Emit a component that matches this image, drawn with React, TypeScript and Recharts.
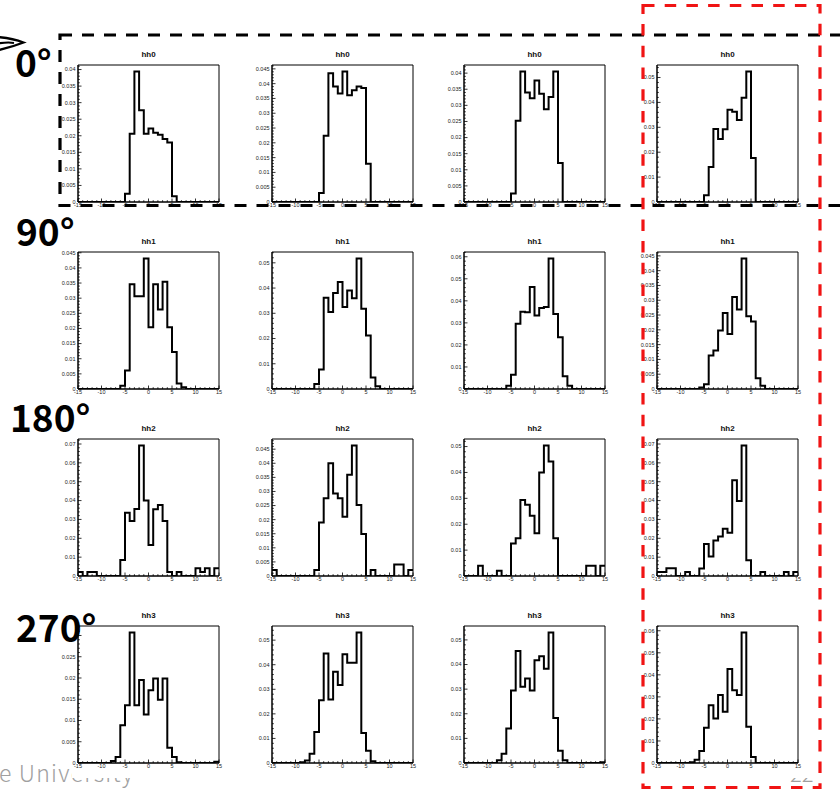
import React from 'react';
import { LineChart, Line, XAxis, YAxis, ReferenceArea } from 'recharts';

// ---------- categories / ticks ----------
const BIN_EDGES = [-15, -14, -13, -12, -11, -10, -9, -8, -7, -6, -5, -4, -3, -2, -1, 0, 1, 2, 3, 4, 5, 6, 7, 8, 9, 10, 11, 12, 13, 14, 15];
const X_TICKS = BIN_EDGES;
const X_LABELS = [-15, -10, -5, 0, 5, 10, 15];
const ROW_TITLES = ['hh0', 'hh1', 'hh2', 'hh3'];
const ANGLE_LABELS = ['0°', '90°', '180°', '270°'];

// ---------- series values (one value per bin, bins -15..14) ----------
const hh0_c1 = [0, 0, 0, 0, 0, 0, 0, 0, 0, 0, 0.0025, 0.0206, 0.0394, 0.0277, 0.0206, 0.0222, 0.0209, 0.0203, 0.019, 0.018, 0.0017, 0, 0, 0, 0, 0, 0, 0, 0, 0];
const hh0_c2 = [0, 0, 0, 0, 0, 0, 0, 0, 0, 0, 0.003, 0.0224, 0.0435, 0.039, 0.0367, 0.0441, 0.0361, 0.0378, 0.039, 0.0385, 0.0129, 0, 0, 0, 0, 0, 0, 0, 0, 0];
const hh0_c3 = [0, 0, 0, 0, 0, 0, 0, 0, 0, 0, 0.0026, 0.0252, 0.0405, 0.034, 0.0322, 0.0377, 0.0336, 0.0288, 0.0326, 0.0405, 0.0121, 0, 0, 0, 0, 0, 0, 0, 0, 0];
const hh0_c4 = [0, 0, 0, 0, 0, 0, 0, 0, 0, 0, 0.0027, 0.0141, 0.0293, 0.0253, 0.0292, 0.037, 0.0362, 0.0329, 0.0419, 0.0524, 0.0177, 0, 0, 0, 0, 0, 0, 0, 0, 0];

const hh1_c1 = [0, 0, 0, 0, 0, 0, 0, 0, 0, 0.0011, 0.0061, 0.0346, 0.0306, 0.0306, 0.0431, 0.0204, 0.0346, 0.0263, 0.0354, 0.0204, 0.0122, 0.0018, 0.0006, 0, 0, 0, 0, 0, 0, 0];
const hh1_c2 = [0, 0, 0, 0, 0, 0, 0, 0, 0, 0.002, 0.0077, 0.0362, 0.0305, 0.038, 0.0424, 0.0325, 0.039, 0.036, 0.0517, 0.0318, 0.0212, 0.0046, 0.0011, 0, 0, 0, 0, 0, 0, 0];
const hh1_c3 = [0, 0, 0, 0, 0, 0, 0, 0, 0, 0.0015, 0.0065, 0.0296, 0.035, 0.0348, 0.0463, 0.0334, 0.0367, 0.0372, 0.0592, 0.034, 0.0235, 0.0058, 0.0015, 0, 0, 0, 0, 0, 0, 0];
const hh1_c4 = [0, 0, 0, 0, 0, 0, 0, 0, 0, 0.0005, 0.0016, 0.0113, 0.013, 0.0198, 0.0257, 0.0186, 0.0311, 0.0269, 0.0441, 0.0246, 0.0228, 0.0036, 0.0011, 0, 0, 0, 0, 0, 0, 0];

const hh2_c1 = [0.0021, 0, 0.0021, 0.0021, 0, 0, 0, 0, 0, 0.0085, 0.0336, 0.0292, 0.0356, 0.0692, 0.04, 0.0165, 0.0354, 0.0377, 0.0292, 0.0021, 0, 0.0021, 0, 0, 0, 0.0041, 0.0021, 0.0041, 0, 0.0041];
const hh2_c2 = [0.0021, 0, 0, 0, 0, 0, 0, 0, 0, 0.0021, 0.019, 0.0276, 0.04, 0.0293, 0.0276, 0.021, 0.0359, 0.0463, 0.0252, 0.0149, 0, 0.0021, 0, 0, 0, 0, 0.0041, 0.0041, 0, 0.0021];
const hh2_c3 = [0, 0, 0, 0.004, 0, 0, 0, 0.002, 0, 0, 0.0126, 0.0146, 0.0294, 0.0275, 0.0233, 0.0165, 0.04, 0.0504, 0.0442, 0.0146, 0, 0, 0, 0, 0, 0, 0.004, 0.004, 0, 0.004];
const hh2_c4 = [0.0021, 0.0021, 0.0041, 0.0041, 0, 0, 0.0021, 0, 0, 0.004, 0.017, 0.0103, 0.0188, 0.0209, 0.0251, 0.023, 0.0508, 0.0398, 0.0692, 0.0083, 0, 0, 0.0021, 0, 0, 0, 0, 0.0021, 0, 0.0021];

const hh3_c1 = [0, 0, 0, 0, 0, 0, 0, 0.0005, 0.0014, 0.0089, 0.0136, 0.0307, 0.0136, 0.0195, 0.0114, 0.0171, 0.0199, 0.0149, 0.0199, 0.0036, 0.0014, 0.0002, 0, 0, 0, 0, 0, 0, 0, 0.0003];
const hh3_c2 = [0, 0, 0, 0, 0, 0, 0.0003, 0.001, 0.0038, 0.0126, 0.0255, 0.0446, 0.0258, 0.0371, 0.0317, 0.0443, 0.0408, 0.0408, 0.0531, 0.0122, 0.005, 0.0007, 0, 0, 0, 0, 0, 0, 0, 0];
const hh3_c3 = [0, 0, 0, 0, 0, 0, 0, 0.0011, 0.0038, 0.014, 0.0295, 0.0455, 0.031, 0.0343, 0.0295, 0.0417, 0.0434, 0.0383, 0.053, 0.0183, 0.005, 0.0011, 0, 0, 0, 0, 0, 0, 0, 0.0003];
const hh3_c4 = [0, 0, 0, 0, 0, 0, 0, 0.0003, 0.0015, 0.0055, 0.016, 0.0262, 0.0202, 0.0308, 0.0232, 0.0426, 0.033, 0.0308, 0.0592, 0.0164, 0.0027, 0, 0, 0, 0, 0, 0, 0, 0, 0];

const PANELS = [
  [hh0_c1, hh0_c2, hh0_c3, hh0_c4],
  [hh1_c1, hh1_c2, hh1_c3, hh1_c4],
  [hh2_c1, hh2_c2, hh2_c3, hh2_c4],
  [hh3_c1, hh3_c2, hh3_c3, hh3_c4],
];
// labelled y-tick step of each panel
const Y_STEPS = [
  [0.005, 0.005, 0.005, 0.01],
  [0.005, 0.01, 0.01, 0.005],
  [0.01, 0.005, 0.01, 0.01],
  [0.005, 0.01, 0.01, 0.01],
];

// ---------- layout ----------
const PLOT_W = 141;
const PLOT_H = 137;
const COL_X = [78, 272, 464, 657];
const ROW_Y = [65, 252, 439, 626];
const Y_AXIS_W = 30;
const M_TOP = 5;
const M_RIGHT = 5;
const X_AXIS_H = 12;
const CHART_W = Y_AXIS_W + PLOT_W + M_RIGHT;
const CHART_H = M_TOP + PLOT_H + X_AXIS_H;
const Y_TICK_MARGIN = 2.5;
const TICK_FONT = 'Liberation Sans, Arial, Helvetica, sans-serif';

function fmt(v: number) {
  if (v === 0) return '0';
  return String(Number(v.toFixed(4)));
}

function YTick(props: any) {
  const { x, y, payload, isMajor, hideAbove } = props;
  const v = payload.value;
  const major = isMajor(v);
  const ax = x + Y_TICK_MARGIN;
  const showLabel = major && !(hideAbove !== undefined && v >= hideAbove);
  return (
    <g>
      <line x1={ax} x2={ax + (major ? 3.5 : 1.8)} y1={y} y2={y} stroke="#000" strokeWidth={0.8} />
      {showLabel && (
        <text x={x} y={y + 1.9} textAnchor="end" fontSize={5.5} fontFamily={TICK_FONT} fill="#222">
          {fmt(v)}
        </text>
      )}
    </g>
  );
}

function XTick(props: any) {
  const { x, y, payload } = props;
  const v = payload.value;
  const major = X_LABELS.indexOf(v) >= 0;
  return (
    <g>
      <line x1={x} x2={x} y1={y} y2={y - (major ? 3.5 : 1.8)} stroke="#000" strokeWidth={0.8} />
      {major && (
        <text x={x} y={y + 5} textAnchor="middle" fontSize={5.5} fontFamily={TICK_FONT} fill="#222">
          {String(v)}
        </text>
      )}
    </g>
  );
}

function Histo({ values, step, left, top, hideAbove }: { values: number[]; step: number; left: number; top: number; hideAbove?: number }) {
  const data = BIN_EDGES.map((x, i) => ({ x, y: values[Math.min(i, values.length - 1)] }));
  const ymax = Math.max(...values) * 1.05;
  const minor = step / 5;
  const nMinor = Math.floor(ymax / minor + 1e-6);
  const yTicks: number[] = [];
  for (let k = 0; k <= nMinor; k++) yTicks.push(Math.round(k * minor * 1e7) / 1e7);
  const isMajor = (v: number) => Math.abs(v / step - Math.round(v / step)) < 1e-4;
  return (
    <div style={{ position: 'absolute', left: left - Y_AXIS_W, top: top - M_TOP }}>
      <LineChart width={CHART_W} height={CHART_H} data={data} margin={{ top: M_TOP, right: M_RIGHT, bottom: 0, left: 0 }}>
        <XAxis
          type="number"
          dataKey="x"
          domain={[-15, 15]}
          ticks={X_TICKS}
          interval={0}
          allowDataOverflow
          height={X_AXIS_H}
          tickSize={0}
          tickMargin={0}
          tickLine={false}
          axisLine={{ stroke: '#000' }}
          tick={(p: any) => <XTick {...p} />}
        />
        <YAxis
          type="number"
          domain={[0, ymax]}
          ticks={yTicks}
          interval={0}
          allowDataOverflow
          width={Y_AXIS_W}
          tickSize={0}
          tickMargin={Y_TICK_MARGIN}
          tickLine={false}
          axisLine={{ stroke: '#000' }}
          tick={(p: any) => <YTick {...p} isMajor={isMajor} hideAbove={hideAbove} />}
        />
        <ReferenceArea x1={-15} x2={15} y1={0} y2={ymax} fill="none" fillOpacity={0} stroke="#000" strokeWidth={1} />
        <Line type="stepAfter" dataKey="y" stroke="#000" strokeWidth={2} dot={false} isAnimationActive={false} />
      </LineChart>
    </div>
  );
}

const ANGLE_POS = [
  { x: 15, y: 77 },
  { x: 16, y: 246 },
  { x: 10, y: 432 },
  { x: 16, y: 642 },
];

export default function App() {
  return (
    <div style={{ position: 'absolute', left: 0, top: 0, width: 840, height: 789, background: '#fff', overflow: 'hidden' }}>
      {/* slide footer, partly hidden by the pasted image */}
      <svg width={840} height={789} style={{ position: 'absolute', left: 0, top: 0 }}>
        <text x={-1} y={782} fontSize={23} letterSpacing={1.2} fill="#a0a0a0" fontFamily="Noto Sans CJK JP, Noto Sans, sans-serif" fontWeight={300}>
          e University
        </text>
        <text x={790} y={782} fontSize={22} fill="#a0a0a0" fontFamily="Noto Sans CJK JP, Noto Sans, sans-serif" fontWeight={300}>
          22
        </text>
        <rect x={72} y={0} width={768} height={778} fill="#fff" />
      </svg>

      {PANELS.map((row, r) =>
        row.map((vals, c) => (
          <Histo
            key={`${r}-${c}`}
            values={vals}
            step={Y_STEPS[r][c]}
            left={COL_X[c]}
            top={ROW_Y[r]}
            hideAbove={r === 3 && c === 0 ? 0.03 : undefined}
          />
        ))
      )}

      <svg width={840} height={789} style={{ position: 'absolute', left: 0, top: 0, pointerEvents: 'none' }}>
        {ROW_Y.map((ty, r) =>
          COL_X.map((tx, c) => (
            <text
              key={`t-${r}-${c}`}
              x={tx + PLOT_W / 2}
              y={ty - 8}
              textAnchor="middle"
              fontSize={8}
              fontWeight="bold"
              fontFamily={TICK_FONT}
              fill="#111"
            >
              {ROW_TITLES[r]}
            </text>
          ))
        )}
        {ANGLE_LABELS.map((lab, i) => (
          <text
            key={`a-${i}`}
            x={ANGLE_POS[i].x}
            y={ANGLE_POS[i].y}
            fontSize={37}
            fontWeight={700}
            fontFamily="Noto Sans CJK JP, Noto Sans, sans-serif"
            fill="#000"
          >
            {lab}
          </text>
        ))}
        <rect x={60} y={35} width={800} height={170.5} fill="none" stroke="#000" strokeWidth={3.2} strokeDasharray="12 10" />
        <rect x={643} y={5.5} width={177} height={782} fill="none" stroke="#f01414" strokeWidth={3.2} strokeDasharray="11.5 10.2" />
        <path d="M -3 37 Q 12 38 23.5 42.5 Q 12 47 -3 50.5" fill="none" stroke="#000" strokeWidth={2.4} />
        <path d="M -3 43.5 Q 8 42 14 43" fill="none" stroke="#000" strokeWidth={2} />
      </svg>
    </div>
  );
}
